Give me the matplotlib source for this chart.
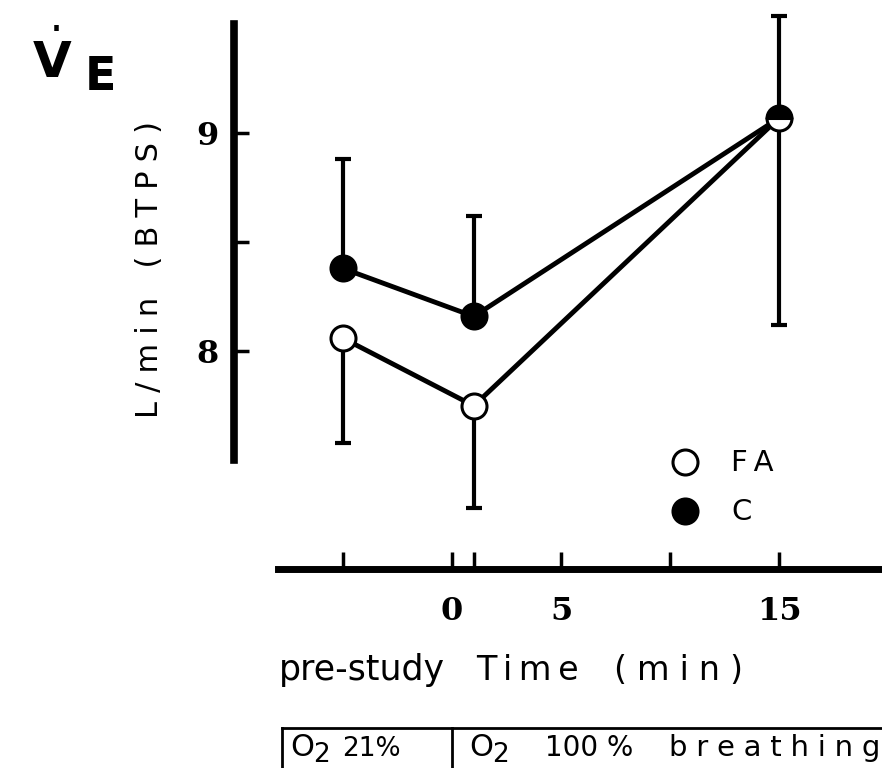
import numpy as np
import matplotlib
matplotlib.use("Agg")
import matplotlib.pyplot as plt

# values (L/min BTPS)
time_min = [-5, 1, 15]
fa_mean = [8.06, 7.75, 9.07]
fa_sd = [0.48, 0.47, 0.95]      # drawn downward only
c_mean = [8.38, 8.16, 9.07]
c_sd = [0.50, 0.46, 0.47]       # drawn upward only
x_ticks = [-5, 0, 1, 5, 10, 15]
x_ticklabels = ["", "0", "", "5", "", "15"]
y_ticks = [8, 8.5, 9]
y_ticklabels = ["8", "", "9"]

plt.rcParams["mathtext.fontset"] = "custom"
plt.rcParams["mathtext.rm"] = "DejaVu Sans"
plt.rcParams["mathtext.bf"] = "DejaVu Sans:bold"

W, H = 882, 768
fig = plt.figure(figsize=(W / 100, H / 100), dpi=100)
ax = fig.add_axes([0, 0, 1, 1])
ax.patch.set_alpha(0)

# axis scale: 0 min at x=452 px, 21.8 px/min ; 9 L/min at y=133 px, 218 px per L/min
ax.set_xlim(-452 / 21.8, (W - 452) / 21.8)
ax.set_ylim(9 - (H - 133.3) / 218, 9 + 133.3 / 218)


def fpos(px, py):
    return px / W, 1 - py / H


def spaced(s, gap="\u2009"):
    # old typewriter-like letter spacing
    return gap.join(s)


sans = "DejaVu Sans"
serif = "DejaVu Serif"

# error bars (one sided)
zero = np.zeros(len(time_min))
ax.errorbar(time_min, c_mean, yerr=[zero, c_sd], fmt="none", ecolor="black",
            elinewidth=3, capsize=5.5, capthick=3, zorder=1)
ax.errorbar(time_min, fa_mean, yerr=[fa_sd, zero], fmt="none", ecolor="black",
            elinewidth=3, capsize=5.5, capthick=3, zorder=1)

ax.plot(time_min, c_mean, "-", color="black", lw=3.5, zorder=2)
ax.plot(time_min, fa_mean, "-", color="black", lw=3.5, zorder=2)
ax.plot(time_min[:2], c_mean[:2], "o", ms=18, mfc="black", mec="black", mew=2.2, zorder=3)
ax.plot(time_min[:2], fa_mean[:2], "o", ms=18, mfc="white", mec="black", mew=2.2, zorder=3)
# the 15 min point: both groups overlap -> half filled
ax.plot(time_min[2], c_mean[2], "o", ms=18, fillstyle="top", mfc="black",
        markerfacecoloralt="white", mec="black", mew=2.2, zorder=4)

# spines
for s in ["top", "right"]:
    ax.spines[s].set_visible(False)
ax.spines["left"].set_position(("data", -10))
ax.spines["left"].set_bounds(7.5, 9.5)
ax.spines["left"].set_linewidth(5.5)
ax.spines["bottom"].set_position(("data", 7.0))
ax.spines["bottom"].set_bounds(-8, 20)
ax.spines["bottom"].set_linewidth(5)

ax.set_yticks(y_ticks)
ax.set_yticklabels(y_ticklabels, fontfamily=serif, fontweight="bold", fontsize=23)
ax.set_xticks(x_ticks)
ax.set_xticklabels(x_ticklabels, fontfamily=serif, fontweight="bold", fontsize=23)
ax.tick_params(axis="y", direction="in", length=11, width=2.5, pad=11)
ax.tick_params(axis="x", direction="in", length=12, width=2.5, pad=19)

# labels
gap = "\u2009\u200a"
fig.text(*fpos(149, 270), spaced("L/min", gap) + "   " + spaced("(BTPS)", gap), rotation=90,
         ha="center", va="center", fontfamily=sans, fontsize=22)
fig.text(*fpos(32, 78), r"$\dot{\mathbf{V}}$", ha="left", va="baseline", fontsize=36)
fig.text(*fpos(85, 90), "E", ha="left", va="baseline", fontfamily=sans,
         fontsize=33, fontweight="bold")

fig.text(*fpos(279, 680), "pre-study", ha="left", va="baseline", fontfamily=sans, fontsize=25)
fig.text(*fpos(476, 680), spaced("Time"), ha="left", va="baseline", fontfamily=sans, fontsize=24)
fig.text(*fpos(614, 680), spaced("(min)", gap), ha="left", va="baseline", fontfamily=sans, fontsize=24)

# legend
ax.plot([0.777], [0.398], "o", transform=ax.transAxes, ms=18, mfc="white", mec="black", mew=2.2)
ax.plot([0.777], [0.335], "o", transform=ax.transAxes, ms=18, mfc="black", mec="black", mew=2.2)
fig.text(*fpos(731, 463), spaced("FA"), ha="left", va="center", fontfamily=sans, fontsize=21)
fig.text(*fpos(731, 512), "C", ha="left", va="center", fontfamily=sans, fontsize=21)

# gas box at the bottom
ax.plot([-7.8, 20], [6.272, 6.272], color="black", lw=2, clip_on=False)
ax.plot([-7.8, -7.8], [6.272, 6.0], color="black", lw=2, clip_on=False)
ax.plot([0, 0], [6.272, 6.0], color="black", lw=2, clip_on=False)
for x0 in [290, 469]:
    fig.text(*fpos(x0, 756), "O", ha="left", va="baseline", fontfamily=sans, fontsize=22)
    fig.text(*fpos(x0 + 23, 762), "2", ha="left", va="baseline", fontfamily=sans, fontsize=19)
fig.text(*fpos(342, 756), "21%", ha="left", va="baseline", fontfamily=sans, fontsize=19)
fig.text(*fpos(545, 756), "100 %", ha="left", va="baseline", fontfamily=sans, fontsize=20)
fig.text(*fpos(669, 756), spaced("breathing", gap), ha="left", va="baseline",
         fontfamily=sans, fontsize=21)

fig.savefig("out.png", dpi=100, facecolor="white")
